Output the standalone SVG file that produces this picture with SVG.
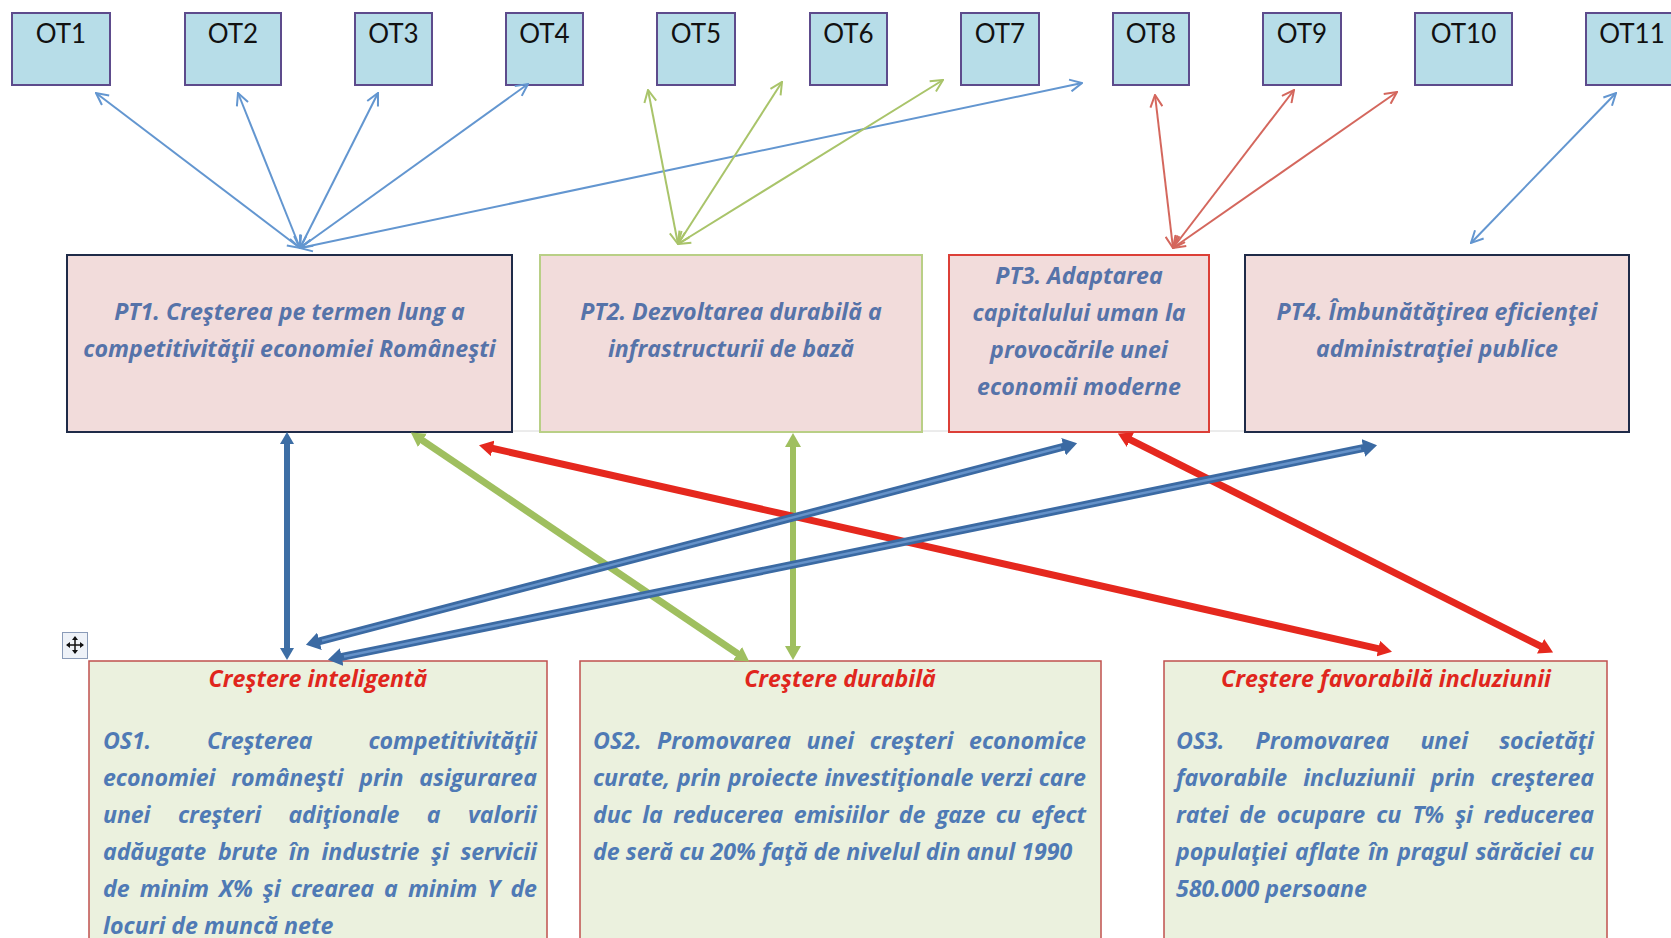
<svg xmlns="http://www.w3.org/2000/svg" width="1671" height="938" viewBox="0 0 1671 938">
<defs>
<style>
.ot rect{fill:#b7dde8;stroke:#5d4b8c;stroke-width:2}
.ot text{font-family:Lato,"Liberation Sans",sans-serif;font-size:26px;fill:#111;text-anchor:middle}
.ptbox{fill:#f2dcdb;stroke-width:2}
.pt{font-family:"Open Sans","Liberation Sans",sans-serif;font-size:23.2px;font-weight:bold;font-style:italic;fill:#5673a9;text-anchor:middle}
.osbox{fill:#ebf1de;stroke:#c0504d;stroke-width:1.5}
.ttl{font-family:"Open Sans","Liberation Sans",sans-serif;font-size:23.2px;font-weight:bold;font-style:italic;fill:#e0261d;text-anchor:middle}
.os{font-family:"Open Sans","Liberation Sans",sans-serif;font-size:23.2px;font-weight:bold;font-style:italic;fill:#4f7ab5}
.tb{stroke:#6396d0;stroke-width:2;fill:none}
.tg{stroke:#a9c46a;stroke-width:2;fill:none}
.tr{stroke:#d4675d;stroke-width:2;fill:none}
</style>
<marker id="ob" viewBox="0 0 14 14" refX="13" refY="7" markerWidth="14" markerHeight="14" markerUnits="userSpaceOnUse" orient="auto-start-reverse"><path d="M1,1 L13,7 L1,13" fill="none" stroke="#6396d0" stroke-width="2"/></marker>
<marker id="og" viewBox="0 0 14 14" refX="13" refY="7" markerWidth="14" markerHeight="14" markerUnits="userSpaceOnUse" orient="auto-start-reverse"><path d="M1,1 L13,7 L1,13" fill="none" stroke="#a9c46a" stroke-width="2"/></marker>
<marker id="or" viewBox="0 0 14 14" refX="13" refY="7" markerWidth="14" markerHeight="14" markerUnits="userSpaceOnUse" orient="auto-start-reverse"><path d="M1,1 L13,7 L1,13" fill="none" stroke="#d4675d" stroke-width="2"/></marker>
<marker id="fr" viewBox="0 0 14 16" refX="1" refY="8" markerWidth="14" markerHeight="16" markerUnits="userSpaceOnUse" orient="auto-start-reverse"><path d="M0,0 L14,8 L0,16 Z" fill="#e5281e"/></marker>
<marker id="fg" viewBox="0 0 14 16" refX="1" refY="8" markerWidth="14" markerHeight="16" markerUnits="userSpaceOnUse" orient="auto-start-reverse"><path d="M0,0 L14,8 L0,16 Z" fill="#9fbf5f"/></marker>
<marker id="fb" viewBox="0 0 14 18" refX="1" refY="9" markerWidth="14" markerHeight="18" markerUnits="userSpaceOnUse" orient="auto-start-reverse"><path d="M0,0 L14,9 L0,18 Z" fill="#3b6aa3"/></marker>
<marker id="fv" viewBox="0 0 12 14" refX="1" refY="7" markerWidth="12" markerHeight="14" markerUnits="userSpaceOnUse" orient="auto-start-reverse"><path d="M0,0 L12,7 L0,14 Z" fill="#3d6ea5"/></marker>
</defs>
<rect width="1671" height="938" fill="#fff"/>

<g id="OT1" class="ot"><rect x="12" y="13" width="98" height="72"/><text x="61" y="43">OT1</text></g>
<g id="OT2" class="ot"><rect x="185" y="13" width="96" height="72"/><text x="233" y="43">OT2</text></g>
<g id="OT3" class="ot"><rect x="355" y="13" width="77" height="72"/><text x="393.5" y="43">OT3</text></g>
<g id="OT4" class="ot"><rect x="506" y="13" width="77" height="72"/><text x="544.5" y="43">OT4</text></g>
<g id="OT5" class="ot"><rect x="657" y="13" width="78" height="72"/><text x="696" y="43">OT5</text></g>
<g id="OT6" class="ot"><rect x="810" y="13" width="77" height="72"/><text x="848.5" y="43">OT6</text></g>
<g id="OT7" class="ot"><rect x="961" y="13" width="78" height="72"/><text x="1000" y="43">OT7</text></g>
<g id="OT8" class="ot"><rect x="1113" y="13" width="76" height="72"/><text x="1151" y="43">OT8</text></g>
<g id="OT9" class="ot"><rect x="1263" y="13" width="78" height="72"/><text x="1302" y="43">OT9</text></g>
<g id="OT10" class="ot"><rect x="1415" y="13" width="97" height="72"/><text x="1463.5" y="43">OT10</text></g>
<g id="OT11" class="ot"><rect x="1586" y="13" width="96" height="72"/><text x="1632" y="43">OT11</text></g>

<line x1="512" y1="431" x2="1245" y2="431" stroke="#d8d8d8" stroke-width="1"/>

<g id="PT1"><rect class="ptbox" x="67" y="255" width="445" height="177" stroke="#1f2b48"/>
<text class="pt" x="289.5" y="320">PT1. Creşterea pe termen lung a</text>
<text class="pt" x="289.5" y="357">competitivităţii economiei Româneşti</text></g>
<g id="PT2"><rect class="ptbox" x="540" y="255" width="382" height="177" stroke="#b9cf86"/>
<text class="pt" x="731" y="320">PT2. Dezvoltarea durabilă a</text>
<text class="pt" x="731" y="357">infrastructurii de bază</text></g>
<g id="PT3"><rect class="ptbox" x="949" y="255" width="260" height="177" stroke="#dc3f37"/>
<text class="pt" x="1079" y="284">PT3. Adaptarea</text>
<text class="pt" x="1079" y="321">capitalului uman la</text>
<text class="pt" x="1079" y="358">provocările unei</text>
<text class="pt" x="1079" y="395">economii moderne</text></g>
<g id="PT4"><rect class="ptbox" x="1245" y="255" width="384" height="177" stroke="#1f2b48"/>
<text class="pt" x="1437" y="320">PT4. Îmbunătăţirea eficienţei</text>
<text class="pt" x="1437" y="357">administraţiei publice</text></g>

<g id="OS1"><rect class="osbox" x="89" y="661" width="458" height="300"/>
<text class="ttl" x="318" y="687">Creştere inteligentă</text>
<text class="os" x="103" y="749" word-spacing="50" textLength="434" lengthAdjust="spacing">OS1. Creşterea competitivităţii</text>
<text class="os" x="103" y="786" word-spacing="10" textLength="434" lengthAdjust="spacing">economiei româneşti prin asigurarea</text>
<text class="os" x="103" y="823" word-spacing="21.6" textLength="434" lengthAdjust="spacing">unei creşteri adiţionale a valorii</text>
<text class="os" x="103" y="860" word-spacing="5.9" textLength="434" lengthAdjust="spacing">adăugate brute în industrie şi servicii</text>
<text class="os" x="103" y="897" word-spacing="4.3" textLength="434" lengthAdjust="spacing">de minim X% şi crearea a minim Y de</text>
<text class="os" x="103" y="934">locuri de muncă nete</text></g>

<g id="OS2"><rect class="osbox" x="580" y="661" width="521" height="300"/>
<text class="ttl" x="840" y="687">Creştere durabilă</text>
<text class="os" x="593" y="749" word-spacing="9.6" textLength="493" lengthAdjust="spacing">OS2. Promovarea unei creşteri economice</text>
<text class="os" x="593" y="786" word-spacing="1" textLength="493" lengthAdjust="spacing">curate, prin proiecte investiţionale verzi care</text>
<text class="os" x="593" y="823" word-spacing="4.7" textLength="493" lengthAdjust="spacing">duc la reducerea emisiilor de gaze cu efect</text>
<text class="os" x="593" y="860">de seră cu 20% faţă de nivelul din anul 1990</text></g>

<g id="OS3"><rect class="osbox" x="1164" y="661" width="443" height="300"/>
<text class="ttl" x="1386" y="687">Creştere favorabilă incluziunii</text>
<text class="os" x="1176" y="749" word-spacing="25.2" textLength="418" lengthAdjust="spacing">OS3. Promovarea unei societăţi</text>
<text class="os" x="1176" y="786" word-spacing="10.1" textLength="418" lengthAdjust="spacing">favorabile incluziunii prin creşterea</text>
<text class="os" x="1176" y="823" word-spacing="5.1" textLength="418" lengthAdjust="spacing">ratei de ocupare cu T% şi reducerea</text>
<text class="os" x="1176" y="860" word-spacing="2.5" textLength="418" lengthAdjust="spacing">populaţiei aflate în pragul sărăciei cu</text>
<text class="os" x="1176" y="897">580.000 persoane</text></g>

<g id="move-handle"><rect x="62.5" y="632.5" width="25" height="26" fill="#eef2f8" stroke="#8a9bb8" stroke-width="1"/>
<path d="M75,637 V653 M67,645 H83" stroke="#111" stroke-width="1.5"/>
<path d="M75,636 l-3,4 h6 z M75,654 l-3,-4 h6 z M66,645 l4,-3 v6 z M84,645 l-4,-3 v6 z" fill="#111"/></g>

<g id="connectors">
<line class="tb" x1="300" y1="248" x2="96" y2="93" marker-start="url(#ob)" marker-end="url(#ob)"/>
<line class="tb" x1="300" y1="248" x2="238" y2="93" marker-start="url(#ob)" marker-end="url(#ob)"/>
<line class="tb" x1="300" y1="248" x2="378" y2="93" marker-start="url(#ob)" marker-end="url(#ob)"/>
<line class="tb" x1="300" y1="248" x2="528" y2="84" marker-start="url(#ob)" marker-end="url(#ob)"/>
<line class="tb" x1="300" y1="248" x2="1082" y2="83" marker-start="url(#ob)" marker-end="url(#ob)"/>
<line class="tg" x1="678" y1="244" x2="648" y2="90" marker-start="url(#og)" marker-end="url(#og)"/>
<line class="tg" x1="678" y1="244" x2="782" y2="82" marker-start="url(#og)" marker-end="url(#og)"/>
<line class="tg" x1="678" y1="244" x2="943" y2="80" marker-start="url(#og)" marker-end="url(#og)"/>
<line class="tr" x1="1173" y1="248" x2="1155" y2="95" marker-start="url(#or)" marker-end="url(#or)"/>
<line class="tr" x1="1173" y1="248" x2="1294" y2="90" marker-start="url(#or)" marker-end="url(#or)"/>
<line class="tr" x1="1173" y1="248" x2="1397" y2="92" marker-start="url(#or)" marker-end="url(#or)"/>
<line class="tb" x1="1471" y1="243" x2="1616" y2="93" marker-start="url(#ob)" marker-end="url(#ob)"/>

<line x1="287" y1="443" x2="287" y2="649" stroke="#3d6ea5" stroke-width="6" marker-start="url(#fv)" marker-end="url(#fv)"/>
<line x1="421.6" y1="439.8" x2="738.4" y2="654.2" stroke="#9fbf5f" stroke-width="7" marker-start="url(#fg)" marker-end="url(#fg)"/>
<line x1="793" y1="446" x2="793" y2="647" stroke="#9fbf5f" stroke-width="6" marker-start="url(#fg)" marker-end="url(#fg)"/>
<line x1="491.7" y1="448.1" x2="1379.3" y2="648.9" stroke="#e5281e" stroke-width="7" marker-start="url(#fr)" marker-end="url(#fr)"/>
<line x1="1129.5" y1="439.3" x2="1541.5" y2="646.7" stroke="#e5281e" stroke-width="7" marker-start="url(#fr)" marker-end="url(#fr)"/>
<line x1="318.5" y1="641.5" x2="1064.5" y2="446.5" stroke="#3b6aa3" stroke-width="8" marker-start="url(#fb)" marker-end="url(#fb)"/>
<line x1="322" y1="640.6" x2="1061" y2="447.4" stroke="#6592c9" stroke-width="2.5"/>
<line x1="340.7" y1="657.2" x2="1364.3" y2="447.8" stroke="#3b6aa3" stroke-width="8" marker-start="url(#fb)" marker-end="url(#fb)"/>
<line x1="344" y1="656.5" x2="1361" y2="448.5" stroke="#6592c9" stroke-width="2.5"/>
</g>
</svg>
